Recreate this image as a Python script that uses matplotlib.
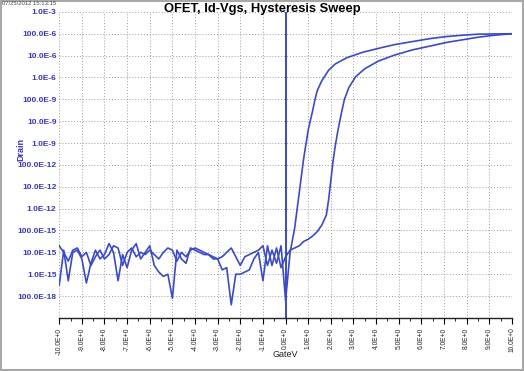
import numpy as np
import matplotlib as mpl

mpl.use("Agg")
import matplotlib.pyplot as plt
from matplotlib.patches import Rectangle

plt.rcParams["font.family"] = ["Liberation Sans", "DejaVu Sans"]

LINE = "#3b4bc4"
LABEL_BLUE = "#3838b8"

# off-state noise, gate -10 V .. 0 V in 0.2 V steps (log10 of drain current)
vg_off = np.round(np.arange(-10.0, 0.01, 0.2), 2)
fwd_off_log = [
    -15.5, -13.9, -15.3, -14.0, -13.9, -14.3, -15.4, -14.5, -13.9, -14.3,
    -14.1, -13.6, -14.0, -15.3, -14.1, -14.7, -13.9, -13.6, -14.3, -14.0,
    -13.7, -14.6, -14.9, -15.1, -15.0, -16.1, -13.9, -14.3, -14.5, -13.8,
    -13.9, -14.0, -14.1, -14.1, -14.2, -14.3, -14.8, -14.7, -16.4, -15.0,
    -15.0, -14.9, -14.8, -14.3, -14.0, -15.3, -13.7, -14.6, -13.8, -14.7,
    -14.2,
]
rev_off_log = [
    -13.7, -14.0, -14.4, -13.9, -13.8, -14.2, -14.0, -14.6, -14.2, -13.9,
    -14.3, -14.1, -13.7, -13.8, -14.6, -14.0, -13.8, -14.2, -14.0, -14.1,
    -13.9, -14.1, -14.3, -14.0, -13.8, -13.9, -14.4, -14.0, -14.2, -13.9,
    -13.8, -13.9, -14.0, -14.1, -14.3, -14.3, -14.2, -14.0, -13.8, -14.2,
    -14.6, -14.2, -14.1, -14.0, -13.9, -13.7, -14.6, -13.9, -14.5, -13.7,
    -16.2,
]

# on-state, forward sweep (lower / right branch)
vg_fwd_on = [0.2, 0.4, 0.6, 0.8, 1.0, 1.2, 1.4, 1.6, 1.8, 1.9, 2.0, 2.1,
             2.2, 2.3, 2.45, 2.6, 2.8, 3.1, 3.5, 4.1, 4.8, 5.6, 6.4, 7.1,
             7.8, 8.5, 9.2, 10.0]
fwd_on_log = [-13.9, -13.8, -13.7, -13.5, -13.4, -13.25, -13.05, -12.75,
              -12.3, -11.6, -10.7, -9.8, -9.1, -8.5, -7.7, -7.0, -6.45,
              -5.96, -5.6, -5.25, -4.98, -4.74, -4.56, -4.4, -4.28, -4.16,
              -4.07, -4.0]

# on-state, reverse sweep (upper / left branch)
vg_rev_on = [0.2, 0.4, 0.6, 0.8, 1.0, 1.2, 1.3, 1.4, 1.6, 1.9, 2.2, 2.7,
             3.4, 4.1, 4.8, 5.6, 6.4, 7.1, 7.8, 8.5, 9.2, 10.0]
rev_on_log = [-14.0, -12.9, -11.3, -9.7, -8.4, -7.5, -7.0, -6.6, -6.15,
              -5.67, -5.38, -5.1, -4.85, -4.67, -4.5, -4.36, -4.22, -4.13,
              -4.07, -4.02, -4.01, -4.0]

ytick_exp = list(range(-3, -17, -1))
ytick_labels = ["1.0E-3", "100.0E-6", "10.0E-6", "1.0E-6", "100.0E-9",
                "10.0E-9", "1.0E-9", "100.0E-12", "10.0E-12", "1.0E-12",
                "100.0E-15", "10.0E-15", "1.0E-15", "100.0E-18"]
xticks = list(range(-10, 11))
xtick_labels = [f"{v}.0E+0" for v in xticks]

fig = plt.figure(figsize=(5.24, 3.71), dpi=100)
ax = fig.add_axes([0.113, 0.143, 0.864, 0.825])

vg_fwd = np.concatenate([vg_off, vg_fwd_on])
id_fwd = 10.0 ** np.concatenate([fwd_off_log, fwd_on_log])
vg_rev = np.concatenate([vg_off, vg_rev_on])[::-1]
id_rev = 10.0 ** np.concatenate([rev_off_log, rev_on_log])[::-1]

ax.plot(vg_fwd, id_fwd, color=LINE, lw=1.2)
ax.plot(vg_rev, id_rev, color=LINE, lw=1.2)
ax.axvline(0, color=LINE, lw=1.4)

ax.set_yscale("log")
ax.set_xlim(-10, 10)
ax.set_ylim(1e-17, 1e-3)
ax.set_yticks([10.0 ** e for e in ytick_exp])
ax.set_yticklabels(ytick_labels)
ax.yaxis.set_minor_locator(mpl.ticker.NullLocator())
ax.set_xticks(xticks)
ax.set_xticklabels(xtick_labels, rotation=90)
ax.set_xticks(np.arange(-9.5, 10, 1.0), minor=True)

ax.grid(True, which="major", color="#9a9a9a", ls=(0, (1, 2)), lw=0.7)
for side in ("top", "right", "left"):
    ax.spines[side].set_visible(False)
ax.spines["bottom"].set_color("#222222")
ax.spines["bottom"].set_linewidth(1.0)

ax.tick_params(axis="y", length=0, pad=2, labelsize=6, labelcolor=LABEL_BLUE)
ax.tick_params(axis="x", which="major", length=4, direction="out",
               labelsize=4.8, labelcolor="#222222", pad=3)
ax.tick_params(axis="x", which="minor", length=2, direction="out")
for lab in ax.get_yticklabels():
    lab.set_fontweight("bold")

ax.set_xlabel("GateV", fontsize=6.5, color="#222222", va="center")
ax.xaxis.set_label_coords(0.5, -0.12)
ax.set_ylabel("Drain", fontsize=6.5, color=LABEL_BLUE, fontweight="bold",
              va="center")
ax.yaxis.set_label_coords(-0.085, 0.55)

fig.text(0.5, 0.992, "OFET, Id-Vgs, Hysteresis Sweep", ha="center", va="top",
         fontsize=9.3, fontweight="bold")
fig.text(0.004, 0.998, "07/25/2012 15:13:15", ha="left", va="top",
         fontsize=4.2, color="#444444")

fig.patches.append(Rectangle((0.002, 0.003), 0.996, 0.994, transform=fig.transFigure,
                             fill=False, edgecolor="#a8a8a8", lw=1.5))

fig.savefig("out.png", dpi=100)
